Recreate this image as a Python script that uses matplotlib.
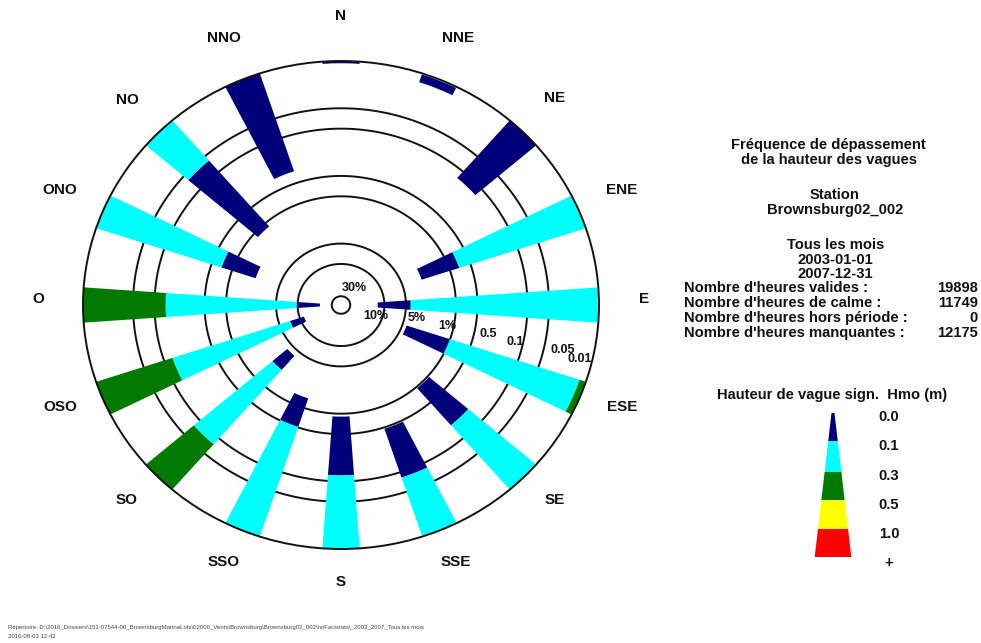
import numpy as np
import matplotlib
matplotlib.use("Agg")
import matplotlib.pyplot as plt
from matplotlib.patches import Polygon
from matplotlib.ticker import NullLocator

plt.rcParams['font.family'] = ['Liberation Sans', 'DejaVu Sans']

# ---- data -------------------------------------------------------------
directions = ["N", "NNE", "NE", "ENE", "E", "ESE", "SE", "SSE",
              "S", "SSO", "SO", "OSO", "O", "ONO", "NO", "NNO"]
dir_angles = np.arange(16) * 22.5

# Exceedance frequency (%) of each significant wave height threshold
exc_00 = [0.0108, 0.0137, 0.133, 2.62, 12.4, 4.38, 0.955, 0.477,
          0.905, 1.42, 4.11, 11.5, 20.5, 2.23, 1.18, 0.334]
exc_01 = [0.0100, 0.0104, 0.0100, 0.732, 4.28, 1.01, 0.180, 0.0829,
          0.122, 0.512, 2.17, 7.18, 9.68, 0.700, 0.0607, 0.0100]
exc_03 = [0.0100, 0.0104, 0.0100, 0.0100, 0.0100, 0.0124, 0.0100, 0.0100,
          0.0100, 0.0100, 0.0768, 0.133, 0.143, 0.0100, 0.0100, 0.0100]
exc_05 = [0.0100, 0.0104, 0.0100, 0.0100, 0.0100, 0.0100, 0.0100, 0.0100,
          0.0100, 0.0100, 0.0100, 0.0100, 0.0100, 0.0100, 0.0100, 0.0100]

ring_values = [30, 10, 5, 1, 0.5, 0.1, 0.05, 0.01]
ring_labels = ["30%", "10%", "5%", "1%", "0.5", "0.1", "0.05", "0.01"]

hmo_bins = ["0.0", "0.1", "0.3", "0.5", "1.0", "+"]
hmo_colors = ["#00007a", "#00ffff", "#007a00", "#ffff00", "#ff0000"]

stat_labels = ["Nombre d'heures valides :", "Nombre d'heures de calme :",
               "Nombre d'heures hors période :", "Nombre d'heures manquantes :"]
stat_values = ["19898", "11749", "0", "12175"]

# ---- figure -----------------------------------------------------------
W, H = 981, 643
fig = plt.figure(figsize=(W / 100, H / 100), dpi=100)
fig.patch.set_facecolor("white")

cx, cy = 341, 305          # rose centre (px)
rx, ry = 258, 244          # outer ring radii (px)
ax = fig.add_axes([(cx - rx) / W, 1 - (cy + ry) / H, 2 * rx / W, 2 * ry / H],
                  projection="polar")
ax.set_aspect("auto")
ax.set_theta_zero_location("N")
ax.set_theta_direction(-1)
ax.set_rscale("log")
ax.set_rlim(40.4, 0.01)
ax.grid(False)
for axis in (ax.xaxis, ax.yaxis):
    axis.set_major_locator(NullLocator())
    axis.set_minor_locator(NullLocator())
ax.spines["polar"].set_linewidth(1.4)
ax.spines["polar"].set_color("#111111")

# reference rings as closed outlines
theta_ring = np.linspace(0, 2 * np.pi, 720, endpoint=False)
for v in ring_values[:-1]:
    ax.fill(theta_ring, np.full_like(theta_ring, v), facecolor="none",
            edgecolor="#111111", lw=1.4, zorder=1)

theta = np.deg2rad(dir_angles)
width = np.deg2rad(8.3)
bounds = [np.array(exc_00), np.array(exc_01), np.array(exc_03), np.array(exc_05)]
for k in range(3):
    ax.bar(theta, bounds[k + 1] - bounds[k], bottom=bounds[k], width=width,
           color=hmo_colors[k], edgecolor="none", linewidth=0, zorder=2,
           align="center")

# ---- overlay in pixel coordinates for annotations ---------------------
ov = fig.add_axes([0, 0, 1, 1], facecolor="none")
ov.set_xlim(0, W)
ov.set_ylim(H, 0)
ov.axis("off")

txt = dict(color="#111111", fontweight="bold", ha="center", va="center")

label_pos = [(341, 16), (458, 38), (555, 98), (622, 190), (644, 299),
             (622, 407), (555, 500), (456, 562), (341, 582), (224, 562),
             (127, 500), (60, 407), (38, 299), (60, 190), (127, 100),
             (224, 38)]
for name, (x, y) in zip(directions, label_pos):
    ov.text(x, y, name, fontsize=11, **txt)

ring_label_pos = [(354, 288), (376, 316), (417, 318), (447, 326),
                  (488, 334), (515, 342), (563, 350), (580, 359)]
for lab, (x, y) in zip(ring_labels, ring_label_pos):
    ov.text(x, y, lab, fontsize=9, **txt)

# header block
header = [("Fréquence de dépassement", 828, 145),
          ("de la hauteur des vagues", 829, 160),
          ("Station", 835, 195),
          ("Brownsburg02_002", 835, 210),
          ("Tous les mois", 836, 245),
          ("2003-01-01", 835, 260),
          ("2007-12-31", 835, 274)]
for s, x, y in header:
    ov.text(x, y, s, fontsize=10.6, **txt)

for i, (lab, val) in enumerate(zip(stat_labels, stat_values)):
    y = 288.5 + i * 14.7
    ov.text(684, y, lab, fontsize=10.6, color="#111111", fontweight="bold",
            ha="left", va="center")
    ov.text(978, y, val, fontsize=10.6, color="#111111", fontweight="bold",
            ha="right", va="center")

# wave height legend (tapered colour column)
ov.text(832, 395, "Hauteur de vague sign.  Hmo (m)", fontsize=10.6, **txt)
edges_y = [413, 441, 472, 500, 529, 557]
xc = 833
def half_w(y):
    return 1.5 + 16.8 * (y - 413) / 144
for k, col in enumerate(hmo_colors):
    y0, y1 = edges_y[k], edges_y[k + 1]
    poly = Polygon([(xc - half_w(y0), y0), (xc + half_w(y0), y0),
                    (xc + half_w(y1), y1), (xc - half_w(y1), y1)],
                   closed=True, facecolor=col, edgecolor="none")
    ov.add_patch(poly)
label_y = [417, 446.5, 476, 505, 534, 563]
for lab, y in zip(hmo_bins, label_y):
    ov.text(889, y, lab, fontsize=10.6, **txt)

# footer
ov.text(8, 627, "Répertoire: D:\\2016_Dossiers\\151-07544-00_BrownsburgMarinaLots"
        "\\02000_Vents\\Brownsburg\\Brownsburg02_002\\noFactstats\\_2003_2007_Tous les mois",
        fontsize=4.3, color="#444444", ha="left", va="center")
ov.text(8, 636, "2016-08-03 12:42", fontsize=4.3, color="#444444",
        ha="left", va="center")

fig.savefig("out.png", dpi=100, facecolor="white")
